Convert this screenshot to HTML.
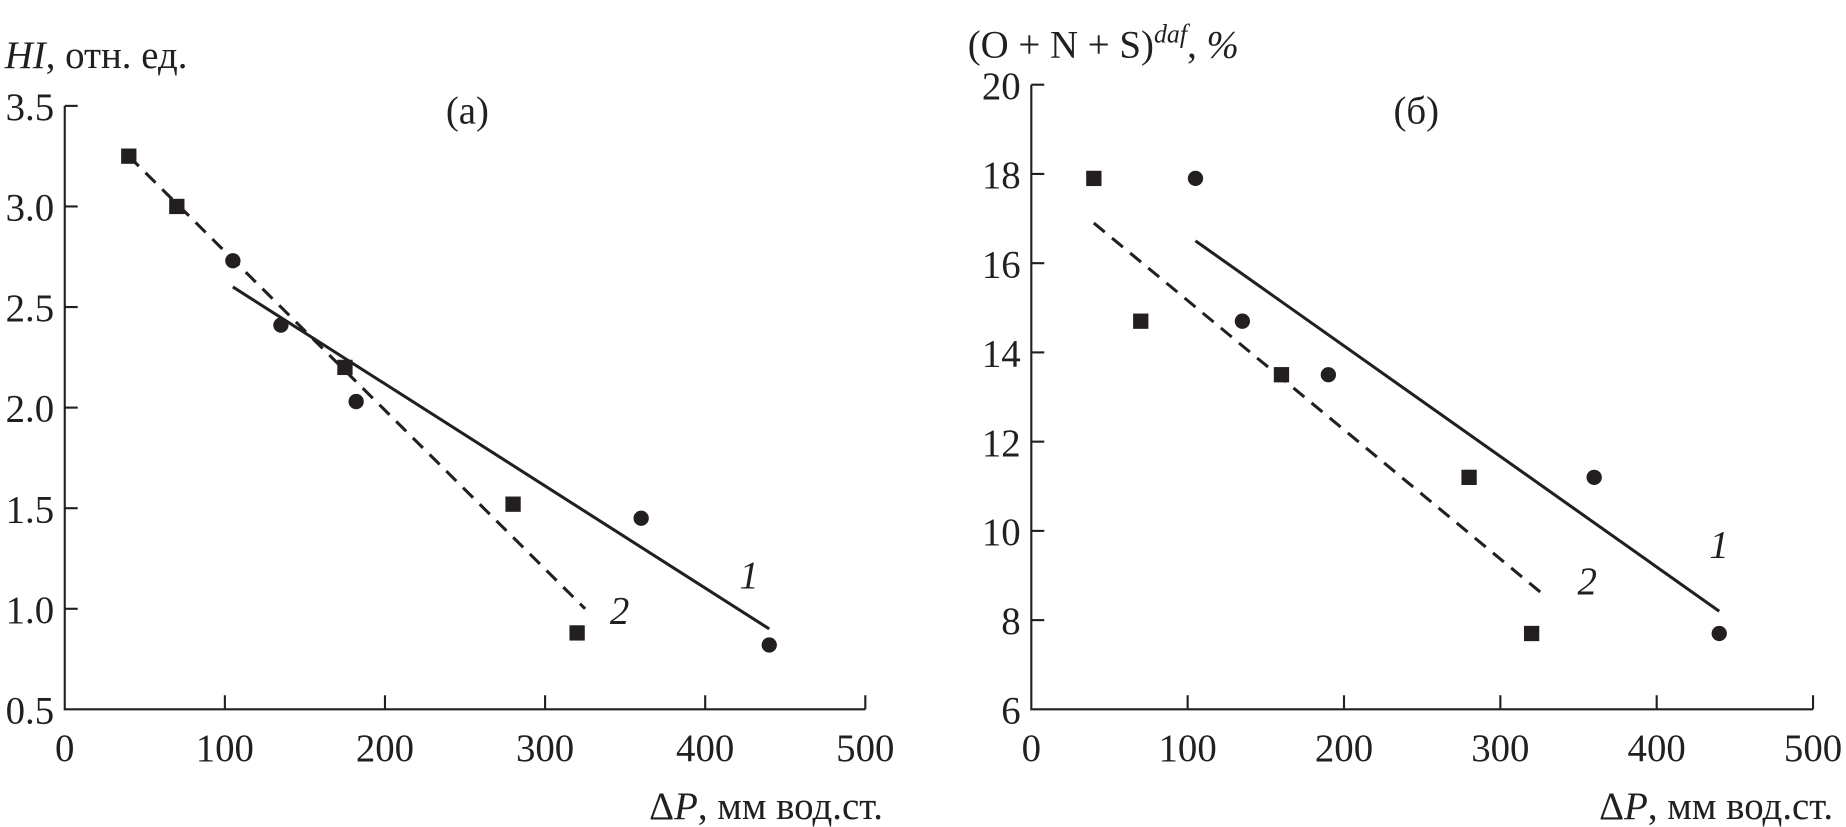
<!DOCTYPE html>
<html><head><meta charset="utf-8"><style>
html,body{margin:0;padding:0;background:#fff;}
svg{display:block;}
text{font-family:"Liberation Serif","DejaVu Serif",serif;fill:#231f20;}
</style></head><body>
<svg id="chart" width="1846" height="827" viewBox="0 0 1568 703" preserveAspectRatio="none" xmlns="http://www.w3.org/2000/svg"></svg>
<script>
// Panel (a) data
const aXTicks = [0,100,200,300,400,500];
const aYTicks = [0.5,1.0,1.5,2.0,2.5,3.0,3.5];
const aSquaresX = [40,70,175,280,320];
const aSquaresY = [3.25,3.0,2.2,1.52,0.88];
const aCirclesX = [105,135,182,360,440];
const aCirclesY = [2.73,2.41,2.03,1.45,0.82];
const aLine1X = [105,440];
const aLine1Y = [2.6,0.9];
const aLine2X = [40,325];
const aLine2Y = [3.25,1.0];
// Panel (b) data
const bXTicks = [0,100,200,300,400,500];
const bYTicks = [6,8,10,12,14,16,18,20];
const bSquaresX = [40,70,160,280,320];
const bSquaresY = [17.9,14.7,13.5,11.2,7.7];
const bCirclesX = [105,135,190,360,440];
const bCirclesY = [17.9,14.7,13.5,11.2,7.7];
const bLine1X = [105,440];
const bLine1Y = [16.5,8.2];
const bLine2X = [40,330];
const bLine2Y = [16.9,8.5];

const NS="http://www.w3.org/2000/svg";
const svg=document.getElementById('chart');
function mk(tag,attrs,parent){const e=document.createElementNS(NS,tag);for(const k in attrs)e.setAttribute(k,attrs[k]);(parent||svg).appendChild(e);return e;}

function panel(cfg){
  const g=mk('g',{});
  
  
  const sx=v=>cfg.x0+(v-cfg.xmin)/(cfg.xmax-cfg.xmin)*(cfg.x1-cfg.x0);
  const sy=v=>cfg.y0-(v-cfg.ymin)/(cfg.ymax-cfg.ymin)*(cfg.y0-cfg.y1);
  const ax=mk('path',{d:`M${cfg.x0},${cfg.y1}V${cfg.y0}H${cfg.x1}`,fill:'none',stroke:'#231f20','stroke-width':1.8},g);
  
  
  cfg.xt.forEach(v=>{
    const x=sx(v);
    if(v!==cfg.xmin){const t=mk('line',{x1:x,x2:x,y1:cfg.y0,y2:cfg.y0-12,stroke:'#231f20','stroke-width':1.8},g);
    
    }
    const l=mk('text',{x:x,y:cfg.y0+44,'font-size':33,'text-anchor':'middle'},g);l.textContent=v;
    
    
  });
  cfg.yt.forEach(v=>{
    const y=sy(v);
    if(v!==cfg.ymin){const t=mk('line',{x1:cfg.x0,x2:cfg.x0+11,y1:y,y2:y,stroke:'#231f20','stroke-width':1.8},g);
    
    }
    const l=mk('text',{x:cfg.x0-9,y:y+12,'font-size':33,'text-anchor':'end'},g);l.textContent=cfg.yfmt(v);
    
    
  });
  const l1=mk('line',{x1:sx(cfg.l1x[0]),y1:sy(cfg.l1y[0]),x2:sx(cfg.l1x[1]),y2:sy(cfg.l1y[1]),stroke:'#231f20','stroke-width':2.6},g);
  
  
  const l2=mk('line',{x1:sx(cfg.l2x[0]),y1:sy(cfg.l2y[0]),x2:sx(cfg.l2x[1]),y2:sy(cfg.l2y[1]),stroke:'#231f20','stroke-width':2.6,'stroke-dasharray':'12,8'},g);
  
  
  cfg.sqx.forEach((v,i)=>{
    const r=mk('rect',{x:sx(v)-6.5,y:sy(cfg.sqy[i])-6.5,width:13,height:13,fill:'#231f20'},g);
    
    
  });
  cfg.cx.forEach((v,i)=>{
    const c=mk('circle',{cx:sx(v),cy:sy(cfg.cy[i]),r:6.5,fill:'#231f20'},g);
    
    
  });
}
panel({name:'panel-a',x0:55,x1:735,y0:603,y1:90,xmin:0,xmax:500,ymin:0.5,ymax:3.5,xt:aXTicks,yt:aYTicks,yfmt:v=>v.toFixed(1),
  l1x:aLine1X,l1y:aLine1Y,l2x:aLine2X,l2y:aLine2Y,sqx:aSquaresX,sqy:aSquaresY,cx:aCirclesX,cy:aCirclesY});
panel({name:'panel-b',x0:876,x1:1540,y0:603,y1:72,xmin:0,xmax:500,ymin:6,ymax:20,xt:bXTicks,yt:bYTicks,yfmt:v=>String(v),
  l1x:bLine1X,l1y:bLine1Y,l2x:bLine2X,l2y:bLine2Y,sqx:bSquaresX,sqy:bSquaresY,cx:bCirclesX,cy:bCirclesY});
</script>
<svg style="position:absolute;left:0;top:0" width="1846" height="827" viewBox="0 0 1568 703" preserveAspectRatio="none">
<text x="4" y="58" font-size="33"><tspan font-style="italic">HI</tspan>, отн. ед.</text>
<text x="397" y="105" font-size="33" text-anchor="middle">(а)</text>
<text x="750" y="696" font-size="33" text-anchor="end">Δ<tspan font-style="italic">P</tspan>, мм вод.ст.</text>
<text x="628" y="500" font-size="33" font-style="italic">1</text>
<text x="518" y="530" font-size="33" font-style="italic">2</text>
<text x="822" y="49" font-size="33">(O + N + S)<tspan font-style="italic" font-size="22" dy="-13">daf</tspan><tspan dy="13">, </tspan><tspan font-style="italic">%</tspan></text>
<text x="1203" y="105" font-size="33" text-anchor="middle">(б)</text>
<text x="1557" y="696" font-size="33" text-anchor="end">Δ<tspan font-style="italic">P</tspan>, мм вод.ст.</text>
<text x="1452" y="474" font-size="33" font-style="italic">1</text>
<text x="1340" y="505" font-size="33" font-style="italic">2</text>
</svg>
</body></html>
